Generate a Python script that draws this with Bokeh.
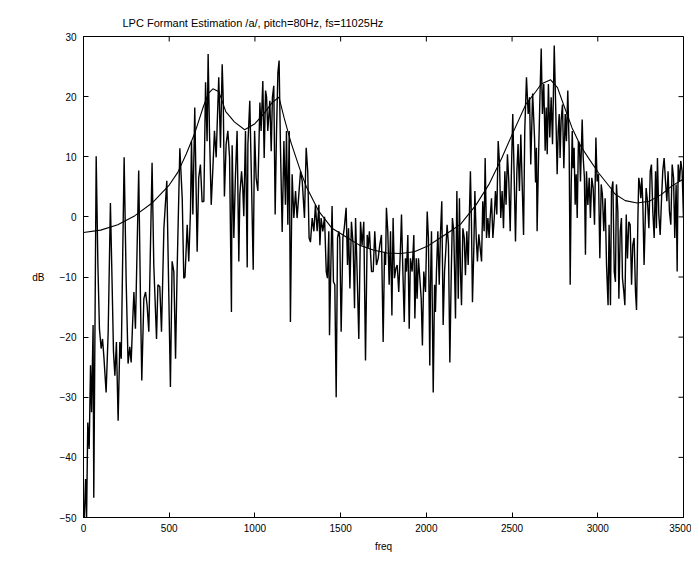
from bokeh.plotting import figure
from bokeh.models import Range1d, FixedTicker
from bokeh.embed import file_html
from bokeh.resources import INLINE

# ---- data ----
spec_freq = [0, 6, 12, 18, 25, 33, 41, 47, 56, 60, 74, 84, 93, 103, 111, 119, 132, 144, 157, 167,
             175, 183, 192, 202, 212, 220, 237, 249, 260, 270, 278, 286, 294, 303, 322, 332, 340, 352, 362, 371,
             381, 400, 410, 426, 434, 445, 455, 469, 486, 497, 507, 517, 527, 537, 546, 562, 576, 585, 592, 605,
             614, 624, 630, 638, 649, 663, 672, 682, 692, 702, 712, 721, 727, 735, 745, 754, 764, 774, 780, 789,
             799, 809, 815, 822, 832, 842, 852, 863, 867, 877, 886, 896, 906, 912, 922, 929, 935, 945, 955, 959,
             970, 980, 990, 998, 1007, 1017, 1029, 1036, 1046, 1054, 1062, 1068, 1075, 1087, 1095, 1102, 1110, 1118, 1126, 1134,
             1141, 1149, 1159, 1169, 1178, 1184, 1192, 1200, 1207, 1217, 1227, 1237, 1246, 1256, 1266, 1276, 1289, 1299, 1308, 1316,
             1324, 1334, 1344, 1353, 1363, 1373, 1379, 1386, 1396, 1406, 1416, 1423, 1431, 1435, 1443, 1450, 1458, 1466, 1474, 1482,
             1489, 1495, 1503, 1513, 1521, 1532, 1540, 1546, 1554, 1563, 1573, 1581, 1587, 1596, 1606, 1616, 1625, 1635, 1645, 1655,
             1660, 1668, 1680, 1690, 1699, 1709, 1719, 1728, 1738, 1748, 1756, 1762, 1767, 1775, 1783, 1791, 1799, 1806, 1814, 1822,
             1830, 1839, 1849, 1855, 1863, 1871, 1878, 1884, 1892, 1900, 1907, 1917, 1927, 1933, 1941, 1946, 1954, 1962, 1970, 1977,
             1985, 1995, 2005, 2012, 2020, 2024, 2030, 2040, 2048, 2053, 2059, 2067, 2075, 2082, 2090, 2098, 2106, 2113, 2121, 2129,
             2137, 2145, 2152, 2160, 2170, 2178, 2186, 2193, 2199, 2205, 2213, 2221, 2228, 2236, 2244, 2252, 2257, 2263, 2269, 2277,
             2283, 2291, 2298, 2306, 2314, 2322, 2329, 2337, 2343, 2351, 2359, 2366, 2372, 2380, 2388, 2396, 2403, 2411, 2419, 2427,
             2434, 2442, 2450, 2458, 2465, 2473, 2481, 2489, 2497, 2504, 2512, 2520, 2528, 2535, 2543, 2551, 2559, 2567, 2574, 2584,
             2594, 2602, 2609, 2620, 2631, 2637, 2642, 2646, 2654, 2662, 2670, 2677, 2685, 2693, 2699, 2705, 2712, 2720, 2728, 2736,
             2746, 2755, 2763, 2769, 2775, 2780, 2786, 2794, 2802, 2810, 2817, 2825, 2833, 2839, 2845, 2851, 2856, 2862, 2868, 2874,
             2880, 2887, 2893, 2899, 2909, 2915, 2922, 2928, 2934, 2942, 2950, 2957, 2965, 2973, 2981, 2989, 2996, 3004, 3012, 3020,
             3027, 3035, 3043, 3051, 3060, 3066, 3074, 3080, 3088, 3096, 3103, 3109, 3117, 3123, 3131, 3138, 3144, 3152, 3158, 3166,
             3173, 3181, 3189, 3197, 3204, 3212, 3220, 3226, 3234, 3239, 3245, 3251, 3257, 3263, 3270, 3276, 3282, 3290, 3298, 3306,
             3313, 3321, 3329, 3337, 3342, 3348, 3356, 3364, 3372, 3379, 3387, 3395, 3403, 3410, 3418, 3426, 3434, 3442, 3449, 3457,
             3463, 3469, 3477, 3484, 3492, 3500]
spec_db = [-56, -49, -43.6, -50, -34.2, -38.6, -24.7, -32.5, -18, -46.7, 10.1, -8, -18.6, -21.9, -20.3, -23.3, -29.2, -19.1, 2.3, -11.3,
           -22.5, -26.4, -20.8, -33.9, -20.8, -23.6, 9.9, -10.8, -24.4, -21.6, -24.2, -18.0, -12.5, -18.6, 7.7, -13, -27.2, -13.6, -12.5, -14.7,
           -19.1, 9.0, -8, -20.3, -11.3, -11.6, -19.1, -1.9, 6.0, -12, -28.3, -7.4, -9.1, -23.6, -9.1, 11.4, 3.0, -10.2, -10, -1.3,
           -7.4, 0.9, 12.6, 0.4, 18.2, -5.8, 6.5, 8.7, 2.5, 2.6, 22.4, 12.6, 27.1, 14.0, 2.0, 7.6, 14.3, 9.9, 15.5, 23.2,
           11.5, 25.4, 19.7, 3.4, 12.1, 14.3, 9.9, -15.8, 11.9, -3.5, 6.5, 14.3, -7.4, 3.7, 7.6, 4.8, 0.1, 14.3, -8.4, 12.1,
           19.3, 5.9, -8.8, 14.3, 6.5, 4.3, 19.0, 14.3, 22.6, 9.8, 21.0, 19.9, 14.3, 19.3, 10.9, 19.9, 21.8, 0.4, 14.3, 24.0,
           26.0, 11.5, -2.5, 12.6, 2.0, 14.3, -1.3, 14.3, -17.5, 7.1, -0.2, 4.3, -0.2, 3.7, 7.6, 5.9, -0.2, 11.5, 7.6, -3.5,
           -4.2, -0.2, -2.4, 2.0, -2.4, 2.0, -4.7, -0.2, -2.4, 0.0, -9.1, -10.2, -2.4, -19.7, -8.0, 1.8, -10.8, -11.3, -30.0, -3.5,
           -2.4, -3.5, -19.1, -3.5, -1.9, 1.5, -8.0, -1.9, -11.9, -0.8, -4.7, -15.2, -0.2, -9.1, -20.3, -0.8, -4.7, -0.8, -23.9, -3.0,
           -5.2, -2.4, -9.1, -9.1, -2.4, -8.0, -6.9, -4.7, -3.0, -20.8, -5.8, -8.0, 1.5, -2.4, -11.3, -2.4, -16.4, -0.2, -10.2, -8.6,
           -8.0, -12.5, -5.2, 0.4, -9.1, -17.5, -6.9, -9.1, -3.0, -18.6, -6.9, -9.1, -3.0, -16.9, -6.9, -13.6, -6.9, -10.2, -13.6, -21.4,
           -9.1, -12.5, 0.9, -3.5, -24.7, -11.3, -2.4, -29.2, -11.3, -15.8, -9.1, -2.4, -11.3, -3.0, 2.6, -18.0, -9.1, -5.8, -1.3, -4.7,
           -24.2, -9.7, -0.2, -2.4, -16.9, 4.3, -13.6, 3.1, -9.1, -14.7, -1.9, -3.5, -9.7, -2.4, -8.0, 1.5, 7.6, -0.8, -14.2, -5.2,
           4.3, -3.5, -7.4, -2.9, -5.2, -7.4, 2.6, -2.4, 9.8, -3.5, -0.2, -3.5, -0.2, 3.1, -3.5, -0.2, 4.3, 0.4, 12.6, 8.7,
           -0.2, 4.3, -1.9, 7.6, 2.0, 10.4, 5.9, -2.4, 8.7, 17.1, 7.1, -4.1, 7.6, 12.1, 4.3, 13.7, 5.4, -3.0, 14.3, 23.2,
           17.1, 19.9, 8.7, 20.5, 13.2, 5.7, 11.5, -2.4, 9.3, 19.3, 28.0, 17.1, 22.1, 11.0, 18.2, 10.4, 22.1, 13.2, 19.9, 12.1,
           28.5, 17.6, 7.1, 14.3, 17.1, 9.8, 16.0, 18.7, 8.1, 17.1, 12.6, 21.0, 11.5, -11.3, 5.4, 14.3, 8.1, 11.5, 2.0, 7.1,
           -0.2, 12.6, 12.1, 5.9, 16.2, 9.8, 6.5, -6.3, 7.6, 2.0, 6.5, -0.2, 6.5, 4.8, -1.3, 13.2, 5.9, 7.1, -6.9, 5.4,
           3.7, -2.4, 3.1, -8.0, -14.7, -1.3, -14.7, 4.3, 5.9, -9.1, -10.8, 5.4, 0.9, -13.6, -2.4, -0.2, -10.2, -12.5, -14.7, 0.4,
           -6.9, -0.8, -1.3, -11.3, -4.7, -3.5, -12.5, -15.5, -0.2, 6.5, 5.4, 3.1, 6.5, 2.0, -8.0, -1.3, 4.8, 2.6, -1.9, 7.6,
           8.7, 0.9, -3.5, 7.6, -1.9, 9.8, 0.4, -3.0, 3.1, 7.6, 9.8, 5.9, 2.6, 7.6, 0.9, -1.3, 8.7, 6.5, -3.5, 5.4,
           -9.1, 8.7, 5.9, 9.3, 7.6, -0.2]

env_freq = [0, 100, 200, 300, 400, 500, 550, 600, 650, 700, 730, 755, 790, 830, 880, 940, 1000, 1050, 1100, 1140,
            1170, 1210, 1266, 1300, 1373, 1450, 1530, 1610, 1690, 1770, 1850, 1930, 2005, 2080, 2140, 2200, 2290, 2365, 2440, 2510,
            2580, 2640, 2670, 2725, 2765, 2800, 2850, 2900, 2950, 3005, 3075, 3100, 3160, 3230, 3300, 3370, 3435, 3500]
env_db = [-2.6, -2.2, -1.3, 0.2, 2.3, 5.3, 7.4, 10.5, 14.0, 18.4, 20.6, 21.3, 20.8, 17.5, 15.8, 14.5, 15.5, 17.1, 19.0, 19.9,
          16.5, 12.4, 7.6, 5.0, 0.9, -1.9, -3.3, -4.7, -5.5, -6.0, -6.1, -5.8, -4.9, -3.5, -2.4, -1.2, 2.0, 5.4, 9.8, 14.3,
          18.7, 20.9, 22.1, 22.8, 21.5, 18.7, 14.8, 11.8, 9.6, 7.3, 4.8, 3.8, 2.7, 2.3, 2.6, 3.7, 5.2, 6.3]

x_ticks = [0, 500, 1000, 1500, 2000, 2500, 3000, 3500]
y_ticks = [-50, -40, -30, -20, -10, 0, 10, 20, 30]

title_text = "LPC Formant Estimation /a/, pitch=80Hz, fs=11025Hz"
x_label = "freq"
y_label = "dB"

FONT = "Liberation Sans"
X0, X1, Y0, Y1 = 0, 3500, -50, 30
W, H = 691, 557
BL, BR, BT, BB = 83, 8, 36, 40
frame_w = W - BL - BR
frame_h = H - BT - BB
hz_per_px = (X1 - X0) / frame_w
db_per_px = (Y1 - Y0) / frame_h
tick_len = 5

p = figure(width=W, height=H, output_backend="svg", toolbar_location=None,
           x_range=Range1d(X0, X1), y_range=Range1d(Y0, Y1),
           min_border_left=BL, min_border_right=BR, min_border_top=BT, min_border_bottom=BB,
           title=title_text)

p.title.text_font = FONT
p.title.text_font_size = "11px"
p.title.text_font_style = "normal"
p.title.text_color = "black"
p.title.align = "left"
p.title.offset = 39
p.title.vertical_align = "top"
p.title.standoff = 12

p.grid.visible = False
p.outline_line_color = "black"
p.outline_line_width = 1
p.background_fill_color = "white"
p.border_fill_color = "white"

def minus(v):
    return ("\u2212" + str(abs(v))) if v < 0 else str(v)

def style_axis(ax, ticks):
    ax.ticker = FixedTicker(ticks=ticks)
    ax.major_tick_in = tick_len
    ax.major_tick_out = 0
    ax.minor_tick_line_color = None
    ax.axis_line_color = "black"
    ax.major_tick_line_color = "black"
    ax.major_label_text_font = FONT
    ax.major_label_text_font_size = "10px"
    ax.major_label_text_color = "black"
    ax.major_label_overrides = {t: minus(t) for t in ticks}
    ax.axis_label_text_font = FONT
    ax.axis_label_text_font_size = "10px"
    ax.axis_label_text_font_style = "normal"
    ax.axis_label_text_color = "black"

style_axis(p.xaxis[0], x_ticks)
style_axis(p.yaxis[0], y_ticks)
p.xaxis[0].major_label_standoff = 6
p.yaxis[0].major_label_standoff = 7
p.xaxis[0].axis_label = x_label
p.xaxis[0].axis_label_standoff = 6

yax = p.yaxis[0]
yax.axis_label = y_label
yax.axis_label_orientation = "horizontal"
yax.axis_label_standoff = 12

# mirrored inward ticks on the top and right edges
p.segment(x0=x_ticks, y0=[Y1] * len(x_ticks), x1=x_ticks, y1=[Y1 - tick_len * db_per_px] * len(x_ticks),
          line_color="black", line_width=1)
p.segment(x0=[X1] * len(y_ticks), y0=y_ticks, x1=[X1 - tick_len * hz_per_px] * len(y_ticks), y1=y_ticks,
          line_color="black", line_width=1)

p.line(spec_freq, spec_db, line_color="black", line_width=1.4)
p.line(env_freq, env_db, line_color="black", line_width=1.1)

open("out.html", "w").write(file_html(p, INLINE))
